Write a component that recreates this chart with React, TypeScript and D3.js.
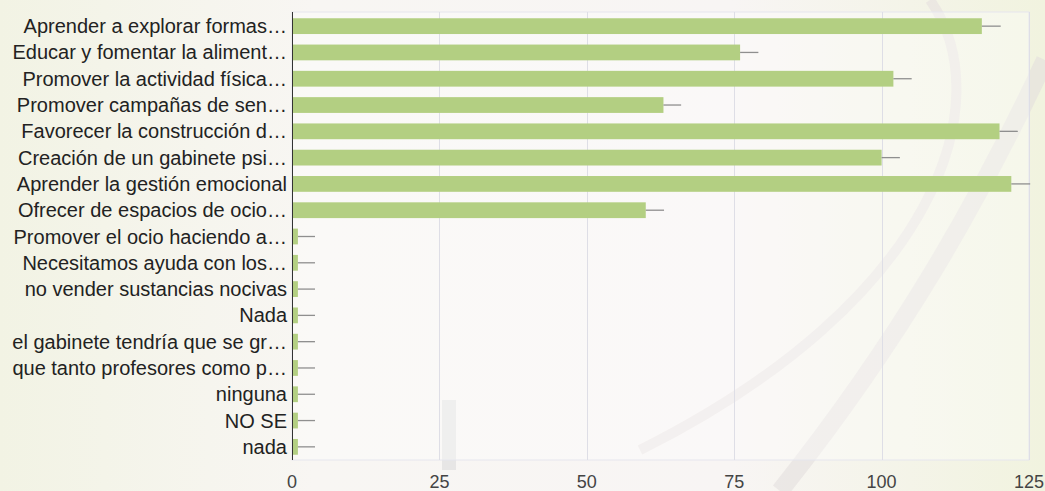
import React from "react";
import * as d3 from "d3";

const categories: string[] = [
  "Aprender a explorar formas…",
  "Educar y fomentar la aliment…",
  "Promover la actividad física…",
  "Promover campañas de sen…",
  "Favorecer la construcción d…",
  "Creación de un gabinete psi…",
  "Aprender la gestión emocional",
  "Ofrecer de espacios de ocio…",
  "Promover el ocio haciendo a…",
  "Necesitamos ayuda con los…",
  "no vender sustancias nocivas",
  "Nada",
  "el gabinete tendría que se gr…",
  "que tanto profesores como p…",
  "ninguna",
  "NO SE",
  "nada",
];

const values: number[] = [117, 76, 102, 63, 120, 100, 122, 60, 1, 1, 1, 1, 1, 1, 1, 1, 1];
const errors: number[] = [3.2, 3.1, 3.1, 3.0, 3.1, 3.1, 3.2, 3.1, 2.9, 2.9, 2.9, 2.9, 2.9, 2.9, 2.9, 2.9, 2.9];
const ticks: number[] = [0, 25, 50, 75, 100, 125];

const W = 1045;
const H = 491;
const M = { left: 292, right: 16, top: 12, bottom: 31 };

export default function App() {
  const x = d3.scaleLinear().domain([0, 125]).range([M.left, W - M.right]);
  const y = d3
    .scaleBand<string>()
    .domain(categories)
    .range([M.top + 1, H - M.bottom])
    .paddingInner(0.4)
    .paddingOuter(0.2);
  const font = "'Liberation Sans', Arial, sans-serif";

  return (
    <svg
      width={W}
      height={H}
      style={{ position: "absolute", left: 0, top: 0, display: "block" }}
    >
      <defs>
        <linearGradient id="bg" x1="0" y1="0" x2="1" y2="0">
          <stop offset="0" stopColor="#f2f3e4" />
          <stop offset="0.3" stopColor="#f8f6f3" />
          <stop offset="0.7" stopColor="#f8f5f4" />
          <stop offset="1" stopColor="#f1f3df" />
        </linearGradient>
      </defs>
      <rect x={0} y={0} width={W} height={H} fill="url(#bg)" />
      <path d="M930,0 C1000,100 940,300 640,450" stroke="#e6e0e0" strokeWidth={10} fill="none" opacity={0.6} />
      <path d="M1045,60 C980,200 900,340 780,491" stroke="#e2dcdc" strokeWidth={18} fill="none" opacity={0.55} />
      <rect x={442} y={400} width={14} height={70} fill="#dcdcdc" opacity={0.6} />
      <rect
        x={M.left}
        y={M.top}
        width={W - M.right - M.left}
        height={H - M.bottom - M.top}
        fill="#ffffff"
        fillOpacity={0.35}
        stroke="#e6e6ee"
        strokeWidth={1}
      />
      {ticks.map((t) => (
        <line
          key={"g" + t}
          x1={Math.round(x(t)) + 0.5}
          x2={Math.round(x(t)) + 0.5}
          y1={M.top}
          y2={H - M.bottom}
          stroke="#dedee6"
          strokeWidth={1}
        />
      ))}
      {categories.map((c, i) => {
        const yy = y(c)!;
        const bh = y.bandwidth();
        return (
          <g key={c + i}>
            <rect x={x(0)} y={yy} width={x(values[i]) - x(0)} height={bh} fill="#b3cf82" />
            <line
              x1={x(values[i])}
              x2={x(values[i] + errors[i])}
              y1={yy + bh / 2}
              y2={yy + bh / 2}
              stroke="#8f8f8f"
              strokeWidth={1.3}
            />
            <text
              x={M.left - 5}
              y={yy + bh / 2}
              textAnchor="end"
              dominantBaseline="central"
              fontFamily={font}
              fontSize={20}
              fill="#222"
            >
              {c}
            </text>
          </g>
        );
      })}
      <line x1={M.left + 0.5} x2={M.left + 0.5} y1={M.top} y2={H - M.bottom} stroke="#333" strokeWidth={1} />
      {ticks.map((t) => (
        <text
          key={"t" + t}
          x={x(t)}
          y={H - 3}
          textAnchor="middle"
          fontFamily={font}
          fontSize={18}
          fill="#444"
        >
          {t}
        </text>
      ))}
    </svg>
  );
}
